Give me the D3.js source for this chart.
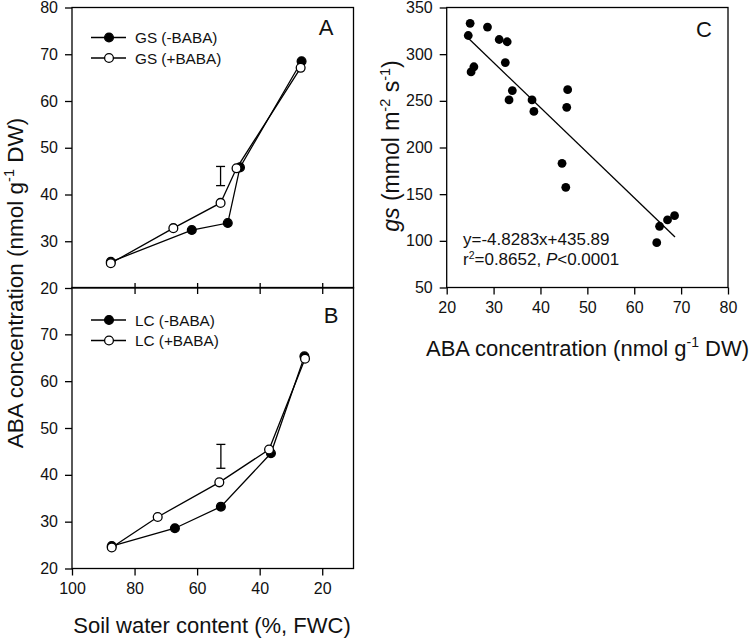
<!DOCTYPE html>
<html><head><meta charset="utf-8">
<script src="https://cdn.jsdelivr.net/npm/d3@7/dist/d3.min.js"></script>
<style>
body{margin:0;background:#fff;}
svg{display:block;font-family:"Liberation Sans",Arial,sans-serif;}
.axis path,.axis line{stroke:#000;stroke-width:1.3;}
.axis text{font-size:16px;fill:#111;font-family:"Liberation Sans",Arial,sans-serif;}
</style></head>
<body>
<svg id="c" width="750" height="638"></svg>
<script>
// Panel A: GS
const gsMinusSWC = [87.6, 61.7, 50.2, 46.3, 26.6];
const gsMinusABA = [25.6, 32.4, 33.9, 45.8, 68.5];
const gsPlusSWC  = [87.6, 67.6, 52.5, 47.4, 26.9];
const gsPlusABA  = [25.3, 32.8, 38.2, 45.6, 67.1];
const gsErrBar = {swc: 52.5, lo: 41.9, hi: 46.0};
// Panel B: LC
const lcMinusSWC = [87.3, 67.1, 52.4, 36.4, 25.7];
const lcMinusABA = [24.8, 28.6, 33.2, 44.6, 65.3];
const lcPlusSWC  = [87.3, 72.6, 52.9, 37.0, 25.5];
const lcPlusABA  = [24.5, 31.0, 38.4, 45.4, 64.8];
const lcErrBar = {swc: 52.4, lo: 41.4, hi: 46.5};
// Panel C: gs vs ABA
const cABA = [24.6, 25.0, 28.7, 25.2, 25.8, 31.2, 32.9, 32.5, 33.3, 34.0, 38.2, 38.6, 45.8, 45.6, 44.6, 45.4, 64.8, 65.4, 67.1, 68.6];
const cGs  = [320, 333, 329, 281, 286.5, 315.7, 313.3, 291, 251, 261, 251, 238.7, 262, 243, 183, 157.3, 98, 115.6, 122.4, 127];
const regSlope = -4.8283, regIntercept = 435.89;
const regRange = [24.4, 68.7];
const swcTicks = [100, 80, 60, 40, 20];
const abaTicksA = [20, 30, 40, 50, 60, 70, 80];
const abaTicksB = [20, 30, 40, 50, 60, 70];
const cXTicks = [20, 30, 40, 50, 60, 70, 80];
const cYTicks = [50, 100, 150, 200, 250, 300, 350];

const svg = d3.select("#c");
const TS = 7, TP = 7, SW = 1.3, R = 4.4;

const x = d3.scaleLinear().domain([100, 10]).range([72, 353.5]);
const yA = d3.scaleLinear().domain([20, 80]).range([288, 7.5]);
const yB = d3.scaleLinear().domain([20, 80]).range([568.5, 287.5]);

function frame(x0, y0, x1, y1){
  svg.append("rect").attr("x", x0).attr("y", y0).attr("width", x1 - x0).attr("height", y1 - y0)
    .attr("fill", "none").attr("stroke", "#000").attr("stroke-width", SW);
}
function styleAxis(g){ g.attr("class", "axis"); g.select(".domain").remove(); }

// Panel frames
frame(72, 7.5, 353.5, 288);
frame(72, 287.5, 353.5, 568.5);

// Panel A axes
svg.append("g").attr("transform", "translate(72,0)")
  .call(d3.axisLeft(yA).tickValues(abaTicksA).tickSize(TS).tickPadding(TP).tickFormat(d3.format("d")))
  .call(styleAxis);
svg.append("g").attr("transform", "translate(0,288)")
  .call(d3.axisBottom(x).tickValues(swcTicks.slice(1)).tickSize(6).tickFormat(""))
  .call(styleAxis);
svg.append("g").attr("transform", "translate(0,288)")
  .call(d3.axisTop(x).tickValues(swcTicks.slice(1)).tickSize(5).tickFormat(""))
  .call(styleAxis);
// Panel B axes
svg.append("g").attr("transform", "translate(72,0)")
  .call(d3.axisLeft(yB).tickValues(abaTicksB).tickSize(TS).tickPadding(TP).tickFormat(d3.format("d")))
  .call(styleAxis);
svg.append("g").attr("transform", "translate(0,568.5)")
  .call(d3.axisBottom(x).tickValues(swcTicks).tickSize(TS).tickPadding(TP).tickFormat(d3.format("d")))
  .call(styleAxis);

function drawSeries(xs, ys, yScale, filled){
  const pts = xs.map((v, i) => [x(v), yScale(ys[i])]);
  svg.append("path").attr("d", d3.line()(pts)).attr("fill", "none").attr("stroke", "#000").attr("stroke-width", SW);
  svg.append("g").selectAll("circle").data(pts).join("circle")
    .attr("cx", d => d[0]).attr("cy", d => d[1]).attr("r", R)
    .attr("fill", filled ? "#000" : "#fff").attr("stroke", "#000").attr("stroke-width", SW);
}
function errBar(eb, yScale){
  const cx = x(eb.swc), w = 4.5;
  const g = svg.append("g").attr("stroke", "#000").attr("stroke-width", SW);
  g.append("line").attr("x1", cx).attr("x2", cx).attr("y1", yScale(eb.lo)).attr("y2", yScale(eb.hi));
  g.append("line").attr("x1", cx - w).attr("x2", cx + w).attr("y1", yScale(eb.lo)).attr("y2", yScale(eb.lo));
  g.append("line").attr("x1", cx - w).attr("x2", cx + w).attr("y1", yScale(eb.hi)).attr("y2", yScale(eb.hi));
}
function legend(y0, labels){
  labels.forEach((lab, i) => {
    const yy = y0 + i * 20.5;
    svg.append("line").attr("x1", 91).attr("x2", 126).attr("y1", yy).attr("y2", yy).attr("stroke", "#000").attr("stroke-width", SW);
    svg.append("circle").attr("cx", 109).attr("cy", yy).attr("r", R)
      .attr("fill", i === 0 ? "#000" : "#fff").attr("stroke", "#000").attr("stroke-width", SW);
    svg.append("text").attr("x", 135).attr("y", yy + 5.5).attr("font-size", 15.3).attr("fill", "#111").text(lab);
  });
}

drawSeries(gsMinusSWC, gsMinusABA, yA, true);
drawSeries(gsPlusSWC, gsPlusABA, yA, false);
errBar(gsErrBar, yA);
legend(37.5, ["GS (-BABA)", "GS (+BABA)"]);
svg.append("text").attr("x", 326).attr("y", 35).attr("font-size", 22).attr("text-anchor", "middle").attr("fill", "#111").text("A");

drawSeries(lcMinusSWC, lcMinusABA, yB, true);
drawSeries(lcPlusSWC, lcPlusABA, yB, false);
errBar(lcErrBar, yB);
legend(320, ["LC (-BABA)", "LC (+BABA)"]);
svg.append("text").attr("x", 331).attr("y", 323).attr("font-size", 22).attr("text-anchor", "middle").attr("fill", "#111").text("B");

// Y title left
const yt = svg.append("text").attr("transform", "translate(23,283) rotate(-90)")
  .attr("text-anchor", "middle").attr("font-size", 22.5).attr("fill", "#111");
yt.append("tspan").text("ABA concentration (nmol g");
yt.append("tspan").attr("dy", -9).attr("font-size", 14.5).text("-1");
yt.append("tspan").attr("dy", 9).text(" DW)");
// X title left
svg.append("text").attr("x", 212).attr("y", 633).attr("text-anchor", "middle").attr("font-size", 22).attr("fill", "#111")
  .text("Soil water content (%, FWC)");

// Panel C
const cx = d3.scaleLinear().domain([20, 80]).range([446.7, 728]);
const cy = d3.scaleLinear().domain([50, 350]).range([287.5, 7.5]);
frame(446.7, 7.5, 728, 287.5);
svg.append("g").attr("transform", "translate(446.7,0)")
  .call(d3.axisLeft(cy).tickValues(cYTicks).tickSize(TS).tickPadding(TP).tickFormat(d3.format("d")))
  .call(styleAxis);
svg.append("g").attr("transform", "translate(0,287.5)")
  .call(d3.axisBottom(cx).tickValues(cXTicks).tickSize(TS).tickPadding(TP).tickFormat(d3.format("d")))
  .call(styleAxis);
svg.append("line").attr("x1", cx(regRange[0])).attr("x2", cx(regRange[1]))
  .attr("y1", cy(regSlope * regRange[0] + regIntercept)).attr("y2", cy(regSlope * regRange[1] + regIntercept))
  .attr("stroke", "#000").attr("stroke-width", SW);
svg.append("g").selectAll("circle").data(cABA).join("circle")
  .attr("cx", d => cx(d)).attr("cy", (d, i) => cy(cGs[i])).attr("r", R).attr("fill", "#000");
svg.append("text").attr("x", 704).attr("y", 37).attr("font-size", 22).attr("text-anchor", "middle").attr("fill", "#111").text("C");
svg.append("text").attr("x", 463).attr("y", 245).attr("font-size", 17).attr("fill", "#111").text("y=-4.8283x+435.89");
const r2 = svg.append("text").attr("x", 463).attr("y", 265).attr("font-size", 17).attr("fill", "#111");
r2.append("tspan").text("r");
r2.append("tspan").attr("dy", -6).attr("font-size", 10.5).text("2");
r2.append("tspan").attr("dy", 6).text("=0.8652, ");
r2.append("tspan").attr("font-style", "italic").text("P");
r2.append("tspan").text("<0.0001");

const cyt = svg.append("text").attr("transform", "translate(399,146) rotate(-90)")
  .attr("text-anchor", "middle").attr("font-size", 23).attr("fill", "#111");
cyt.append("tspan").attr("font-style", "italic").text("gs");
cyt.append("tspan").text(" (mmol m");
cyt.append("tspan").attr("dy", -9).attr("font-size", 14.5).text("-2");
cyt.append("tspan").attr("dy", 9).text(" s");
cyt.append("tspan").attr("dy", -9).attr("font-size", 14.5).text("-1");
cyt.append("tspan").attr("dy", 9).text(")");

const cxt = svg.append("text").attr("x", 587.5).attr("y", 356).attr("text-anchor", "middle").attr("font-size", 22).attr("fill", "#111");
cxt.append("tspan").text("ABA concentration (nmol g");
cxt.append("tspan").attr("dy", -9).attr("font-size", 14).text("-1");
cxt.append("tspan").attr("dy", 9).text(" DW)");
</script>
</body></html>
